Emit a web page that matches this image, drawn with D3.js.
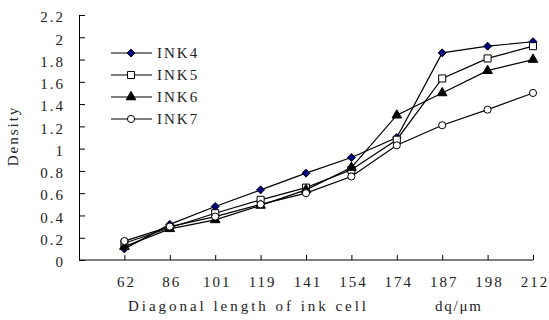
<!DOCTYPE html>
<html>
<head>
<meta charset="utf-8">
<script src="https://cdn.jsdelivr.net/npm/d3@7"></script>
<style>
  body { margin: 0; background: #fff; }
  text { font-family: "Liberation Serif", "DejaVu Serif", serif; font-size: 15px; fill: #222; letter-spacing: 2px; }
</style>
</head>
<body>
<div class="canvas"></div>
<script>
// data
var categories = ["62","86","101","119","141","154","174","187","198","212"];
var ink4 = [0.10,0.32,0.48,0.63,0.78,0.92,1.10,1.86,1.92,1.96];
var ink5 = [0.15,0.29,0.42,0.54,0.65,0.81,1.08,1.63,1.81,1.92];
var ink6 = [0.12,0.28,0.36,0.49,0.63,0.83,1.30,1.50,1.70,1.80];
var ink7 = [0.17,0.30,0.39,0.50,0.60,0.75,1.03,1.21,1.35,1.50];
var seriesNames = ["INK4","INK5","INK6","INK7"];
var yTicks = [0,0.2,0.4,0.6,0.8,1,1.2,1.4,1.6,1.8,2,2.2];

var svgWidth = 549, svgHeight = 320;
var x0 = 79, x1 = 533, yBottom = 260, yTop = 15;

const svg = d3.select(".canvas").append("svg")
            .attr("width", svgWidth)
            .attr("height", svgHeight);

var step = (x1 - x0) / categories.length;
var x = d3.scalePoint()
     .domain(categories)
     .range([x0 + step, x1]);

var y = d3.scaleLinear()
     .domain([0, 2.2])
     .range([yBottom, yTop]);

// y axis
var yAxis = svg.append("g")
     .attr("transform", "translate(" + x0 + ",0)")
     .call(d3.axisLeft(y).tickValues(yTicks).tickSizeInner(-6).tickSizeOuter(0).tickPadding(14)
          .tickFormat(function(d) { return d === 0 || d === 1 || d === 2 ? d : d3.format(".1f")(d); }));
yAxis.select(".domain").attr("stroke", "#000");
yAxis.selectAll(".tick line").attr("stroke", "#000");
yAxis.selectAll("text").attr("font-family", null).attr("font-size", null).attr("dy", "0.45em");

// x axis
var xAxis = svg.append("g")
     .attr("transform", "translate(0," + yBottom + ")")
     .call(d3.axisBottom(x).tickSizeInner(-5).tickSizeOuter(0).tickPadding(16));
xAxis.select(".domain").attr("d", "M" + x0 + ",0H" + x1).attr("stroke", "#000");
xAxis.selectAll(".tick line").attr("stroke", "#000");
xAxis.selectAll("text").attr("font-family", null).attr("font-size", null).attr("dx", "0.1em");

// axis titles
svg.append("text")
     .attr("x", 128).attr("y", 311)
     .attr("textLength", 240).attr("lengthAdjust", "spacing")
     .text("Diagonal length of ink cell");
svg.append("text")
     .attr("x", 435).attr("y", 311)
     .attr("textLength", 48).attr("lengthAdjust", "spacing")
     .text("dq/\u03bcm");
svg.append("text")
     .attr("transform", "translate(18,136) rotate(-90)")
     .attr("text-anchor", "middle")
     .attr("font-size", 14)
     .attr("letter-spacing", "1.5px")
     .text("Density");

// markers
var diamond = { draw: function(ctx, size) {
     var r = Math.sqrt(size / 2);
     ctx.moveTo(0, -r); ctx.lineTo(r, 0); ctx.lineTo(0, r); ctx.lineTo(-r, 0); ctx.closePath();
} };
var symbols = [
     { type: diamond, size: 32, fill: "#000080" },
     { type: d3.symbolSquare, size: 50, fill: "#fff" },
     { type: d3.symbolTriangle, size: 40, fill: "#000" },
     { type: d3.symbolCircle, size: 40, fill: "#fff" }
];
var allSeries = [ink4, ink5, ink6, ink7];

var line = d3.line()
     .x(function(d, i) { return x(categories[i]); })
     .y(function(d) { return y(d); });

allSeries.forEach(function(values, k) {
     var g = svg.append("g");
     g.append("path")
          .attr("d", line(values))
          .attr("fill", "none")
          .attr("stroke", "#000")
          .attr("stroke-width", 1.2);
     g.selectAll("path.pt")
          .data(values)
          .enter().append("path")
          .attr("class", "pt")
          .attr("d", d3.symbol().type(symbols[k].type).size(symbols[k].size))
          .attr("transform", function(d, i) { return "translate(" + x(categories[i]) + "," + y(d) + ")"; })
          .attr("fill", symbols[k].fill)
          .attr("stroke", "#000")
          .attr("stroke-width", 1);
});

// legend
var legend = svg.selectAll("g.legend")
     .data(seriesNames)
     .enter().append("g")
     .attr("class", "legend")
     .attr("transform", function(d, i) { return "translate(111," + (53 + i * 22) + ")"; });
legend.append("line")
     .attr("x1", 0).attr("x2", 41)
     .attr("stroke", "#000").attr("stroke-width", 1.2);
legend.append("path")
     .attr("d", function(d, i) { return d3.symbol().type(symbols[i].type).size(symbols[i].size)(); })
     .attr("transform", "translate(20,0)")
     .attr("fill", function(d, i) { return symbols[i].fill; })
     .attr("stroke", "#000");
legend.append("text")
     .attr("x", 46).attr("dy", "0.35em")
     .text(function(d) { return d; });
</script>
</body>
</html>
